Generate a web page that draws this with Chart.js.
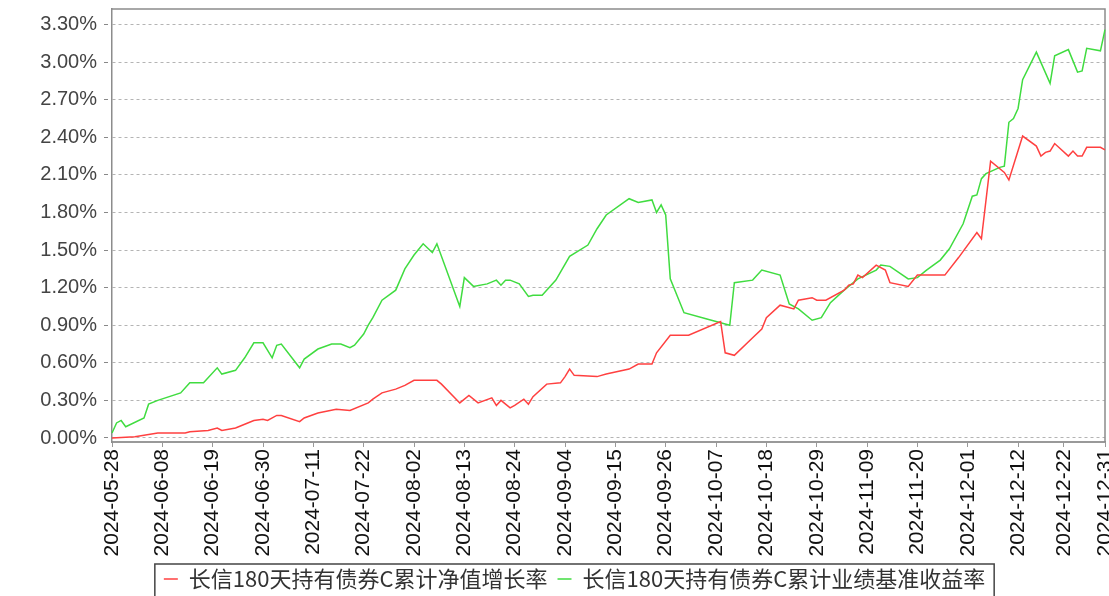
<!DOCTYPE html>
<html>
<head>
<meta charset="utf-8">
<script src="https://cdn.jsdelivr.net/npm/chart.js@4/dist/chart.umd.min.js"></script>
<style>
  html, body { margin: 0; padding: 0; background: #fff; overflow: hidden; }
</style>
</head>
<body>
<canvas id="chart" width="1109" height="596"></canvas>
<script>
// x axis runs over every calendar day, labels only on these dates
const startDate = "2024-05-28";
const endDate = "2024-12-31";
const tickDates = [
  "2024-05-28", "2024-06-08", "2024-06-19", "2024-06-30", "2024-07-11",
  "2024-07-22", "2024-08-02", "2024-08-13", "2024-08-24", "2024-09-04",
  "2024-09-15", "2024-09-26", "2024-10-07", "2024-10-18", "2024-10-29",
  "2024-11-09", "2024-11-20", "2024-12-01", "2024-12-12", "2024-12-22",
  "2024-12-31"
];

const seriesNames = ["长信180天持有债券C累计净值增长率", "长信180天持有债券C累计业绩基准收益率"];

// 累计净值增长率 (%)
const navDates = [
  "2024-05-28", "2024-06-02", "2024-06-07", "2024-06-13", "2024-06-14", "2024-06-18",
  "2024-06-20", "2024-06-21", "2024-06-24", "2024-06-26", "2024-06-28", "2024-06-30",
  "2024-07-01", "2024-07-03", "2024-07-04", "2024-07-08", "2024-07-09", "2024-07-12",
  "2024-07-16", "2024-07-19", "2024-07-23", "2024-07-24", "2024-07-26", "2024-07-29",
  "2024-07-31", "2024-08-02", "2024-08-04", "2024-08-07", "2024-08-08", "2024-08-12",
  "2024-08-14", "2024-08-16", "2024-08-19", "2024-08-20", "2024-08-21", "2024-08-23",
  "2024-08-24", "2024-08-26", "2024-08-27", "2024-08-28", "2024-08-31", "2024-09-03",
  "2024-09-04", "2024-09-05", "2024-09-06", "2024-09-11", "2024-09-13", "2024-09-18",
  "2024-09-20", "2024-09-23", "2024-09-24", "2024-09-27", "2024-10-01", "2024-10-08",
  "2024-10-09", "2024-10-11", "2024-10-15", "2024-10-17", "2024-10-18", "2024-10-21",
  "2024-10-24", "2024-10-25", "2024-10-28", "2024-10-29", "2024-10-31", "2024-11-04",
  "2024-11-05", "2024-11-06", "2024-11-07", "2024-11-08", "2024-11-11", "2024-11-13",
  "2024-11-14", "2024-11-18", "2024-11-20", "2024-11-21", "2024-11-26", "2024-11-29",
  "2024-12-03", "2024-12-04", "2024-12-06", "2024-12-09", "2024-12-10", "2024-12-13",
  "2024-12-16", "2024-12-17", "2024-12-18", "2024-12-19", "2024-12-20", "2024-12-23",
  "2024-12-24", "2024-12-25", "2024-12-26", "2024-12-27", "2024-12-30", "2024-12-31"
];
const navValues = [
  0.00, 0.01, 0.04, 0.04, 0.05, 0.06,
  0.08, 0.06, 0.08, 0.11, 0.14, 0.15,
  0.14, 0.18, 0.18, 0.13, 0.16, 0.20,
  0.23, 0.22, 0.28, 0.31, 0.36, 0.39,
  0.42, 0.46, 0.46, 0.46, 0.43, 0.28,
  0.34, 0.28, 0.32, 0.26, 0.30, 0.24,
  0.26, 0.31, 0.27, 0.33, 0.43, 0.44,
  0.49, 0.55, 0.50, 0.49, 0.51, 0.55,
  0.59, 0.59, 0.68, 0.82, 0.82, 0.93,
  0.68, 0.66, 0.80, 0.87, 0.96, 1.06,
  1.03, 1.10, 1.12, 1.10, 1.10, 1.18,
  1.22, 1.23, 1.30, 1.28, 1.38, 1.34,
  1.24, 1.21, 1.30, 1.30, 1.30, 1.44,
  1.64, 1.59, 2.21, 2.12, 2.06, 2.41,
  2.33, 2.25, 2.28, 2.29, 2.35, 2.25,
  2.29, 2.25, 2.25, 2.32, 2.32, 2.30
];

// 累计业绩基准收益率 (%)
const benchDates = [
  "2024-05-28", "2024-05-29", "2024-05-30", "2024-05-31", "2024-06-04", "2024-06-05",
  "2024-06-07", "2024-06-12", "2024-06-14", "2024-06-17", "2024-06-20", "2024-06-21",
  "2024-06-24", "2024-06-26", "2024-06-28", "2024-06-30", "2024-07-02", "2024-07-03",
  "2024-07-04", "2024-07-08", "2024-07-09", "2024-07-12", "2024-07-15", "2024-07-17",
  "2024-07-19", "2024-07-20", "2024-07-22", "2024-07-23", "2024-07-24", "2024-07-26",
  "2024-07-29", "2024-07-31", "2024-08-02", "2024-08-04", "2024-08-06", "2024-08-07",
  "2024-08-12", "2024-08-13", "2024-08-15", "2024-08-18", "2024-08-20", "2024-08-21",
  "2024-08-22", "2024-08-23", "2024-08-25", "2024-08-27", "2024-08-28", "2024-08-30",
  "2024-09-02", "2024-09-05", "2024-09-09", "2024-09-11", "2024-09-13", "2024-09-18",
  "2024-09-20", "2024-09-23", "2024-09-24", "2024-09-25", "2024-09-26", "2024-09-27",
  "2024-09-30", "2024-10-05", "2024-10-10", "2024-10-11", "2024-10-15", "2024-10-17",
  "2024-10-21", "2024-10-23", "2024-10-25", "2024-10-28", "2024-10-30", "2024-11-01",
  "2024-11-04", "2024-11-07", "2024-11-11", "2024-11-12", "2024-11-14", "2024-11-18",
  "2024-11-20", "2024-11-22", "2024-11-25", "2024-11-27", "2024-11-30", "2024-12-02",
  "2024-12-03", "2024-12-04", "2024-12-05", "2024-12-08", "2024-12-09", "2024-12-10",
  "2024-12-11", "2024-12-12", "2024-12-13", "2024-12-16", "2024-12-19", "2024-12-20",
  "2024-12-23", "2024-12-25", "2024-12-26", "2024-12-27", "2024-12-30", "2024-12-31"
];
const benchValues = [
  0.04, 0.12, 0.14, 0.09, 0.16, 0.27,
  0.30, 0.36, 0.44, 0.44, 0.56, 0.51,
  0.54, 0.64, 0.76, 0.76, 0.64, 0.74,
  0.75, 0.56, 0.63, 0.71, 0.75, 0.75,
  0.72, 0.74, 0.83, 0.90, 0.96, 1.10,
  1.18, 1.35, 1.46, 1.55, 1.48, 1.55,
  1.05, 1.28, 1.21, 1.23, 1.26, 1.22,
  1.26, 1.26, 1.23, 1.13, 1.14, 1.14,
  1.26, 1.45, 1.54, 1.67, 1.78, 1.91,
  1.88, 1.90, 1.80, 1.86, 1.78, 1.27,
  1.00, 0.95, 0.90, 1.24, 1.26, 1.34,
  1.30, 1.07, 1.03, 0.94, 0.96, 1.08,
  1.18, 1.27, 1.34, 1.38, 1.37, 1.27,
  1.28, 1.34, 1.42, 1.51, 1.71, 1.93,
  1.94, 2.07, 2.11, 2.16, 2.17, 2.52,
  2.55, 2.63, 2.86, 3.08, 2.83, 3.05,
  3.10, 2.92, 2.93, 3.11, 3.09, 3.26
];

const lineColors = ["rgb(255, 64, 64)", "rgb(64, 220, 64)"];

// all calendar days for the category axis
const labels = [];
for (let d = new Date(startDate + "T00:00:00Z"); d <= new Date(endDate + "T00:00:00Z"); d.setUTCDate(d.getUTCDate() + 1)) {
  labels.push(d.toISOString().slice(0, 10));
}

const toPoints = (dates, values) => dates.map((d, i) => ({ x: d, y: values[i] }));

// top/right frame of the plot, legend nudged right and boxed
const framePlugin = {
  id: "frame",
  afterLayout(chart) {
    chart.legend.left += 22;
    chart.legend.right += 22;
  },
  beforeDatasetsDraw(chart) {
    const { ctx, chartArea } = chart;
    ctx.save();
    ctx.strokeStyle = "#8c8c8c";
    ctx.lineWidth = 1.5;
    ctx.beginPath();
    ctx.moveTo(chartArea.left, chartArea.top);
    ctx.lineTo(chartArea.right, chartArea.top);
    ctx.lineTo(chartArea.right, chartArea.bottom);
    ctx.stroke();
    ctx.restore();
  },
  afterDraw(chart) {
    const boxes = chart.legend.legendHitBoxes;
    if (!boxes || !boxes.length) return;
    const { ctx } = chart;
    const left = Math.min(...boxes.map((b) => b.left)) - 9;
    const right = Math.max(...boxes.map((b) => b.left + b.width)) + 9;
    const top = boxes[0].top - 4;
    ctx.save();
    ctx.strokeStyle = "#444";
    ctx.lineWidth = 1.5;
    ctx.strokeRect(left, top, right - left, chart.height + 10 - top);
    ctx.restore();
  },
};

new Chart(document.getElementById("chart"), {
  type: "line",
  data: {
    labels: labels,
    datasets: [
      {
        label: seriesNames[0],
        data: toPoints(navDates, navValues),
        borderColor: lineColors[0],
        backgroundColor: lineColors[0],
        borderWidth: 1.5,
        pointRadius: 0,
        tension: 0,
      },
      {
        label: seriesNames[1],
        data: toPoints(benchDates, benchValues),
        borderColor: lineColors[1],
        backgroundColor: lineColors[1],
        borderWidth: 1.5,
        pointRadius: 0,
        tension: 0,
      },
    ],
  },
  options: {
    responsive: false,
    animation: false,
    layout: { padding: { left: 0, right: 4, top: 9, bottom: -4 } },
    plugins: {
      tooltip: { enabled: false },
      legend: {
        position: "bottom",
        labels: {
          usePointStyle: true,
          pointStyle: "line",
          pointStyleWidth: 14,
          padding: 10,
          color: "#333",
          font: { family: "'Noto Sans CJK SC', sans-serif", size: 22 },
        },
      },
    },
    scales: {
      x: {
        type: "category",
        offset: false,
        afterBuildTicks: (scale) => {
          scale.ticks = scale.ticks.filter((t) => tickDates.includes(labels[t.value]));
        },
        afterFit: (scale) => {
          scale.height = 116;
          scale.paddingLeft = 0;
          scale.paddingRight = 0;
        },
        grid: { drawOnChartArea: false, drawTicks: true, tickLength: 5, color: "#999" },
        border: { display: true, color: "#999", width: 2 },
        ticks: {
          autoSkip: false,
          maxRotation: 90,
          minRotation: 90,
          padding: 2,
          color: "#111",
          font: { family: "'Liberation Sans', Arial", size: 21 },
          callback: function (value) {
            return labels[value];
          },
        },
      },
      y: {
        min: -0.032,
        max: 3.424,
        afterFit: (scale) => {
          scale.width = 112;
          scale.paddingTop = 0;
          scale.paddingBottom = 0;
        },
        grid: {
          color: "#b4b4b4",
          lineWidth: 1,
          tickLength: 8,
          tickColor: "#888",
          tickBorderDash: [4, 4],
        },
        border: { display: true, color: "#8c8c8c", width: 1.5, dash: [3, 3] },
        ticks: {
          stepSize: 0.3,
          includeBounds: false,
          padding: 7,
          color: "#444",
          font: { family: "'Liberation Sans', Arial", size: 20 },
          callback: (v) => v.toFixed(2) + "%",
        },
      },
    },
  },
  plugins: [framePlugin],
});
</script>
</body>
</html>
